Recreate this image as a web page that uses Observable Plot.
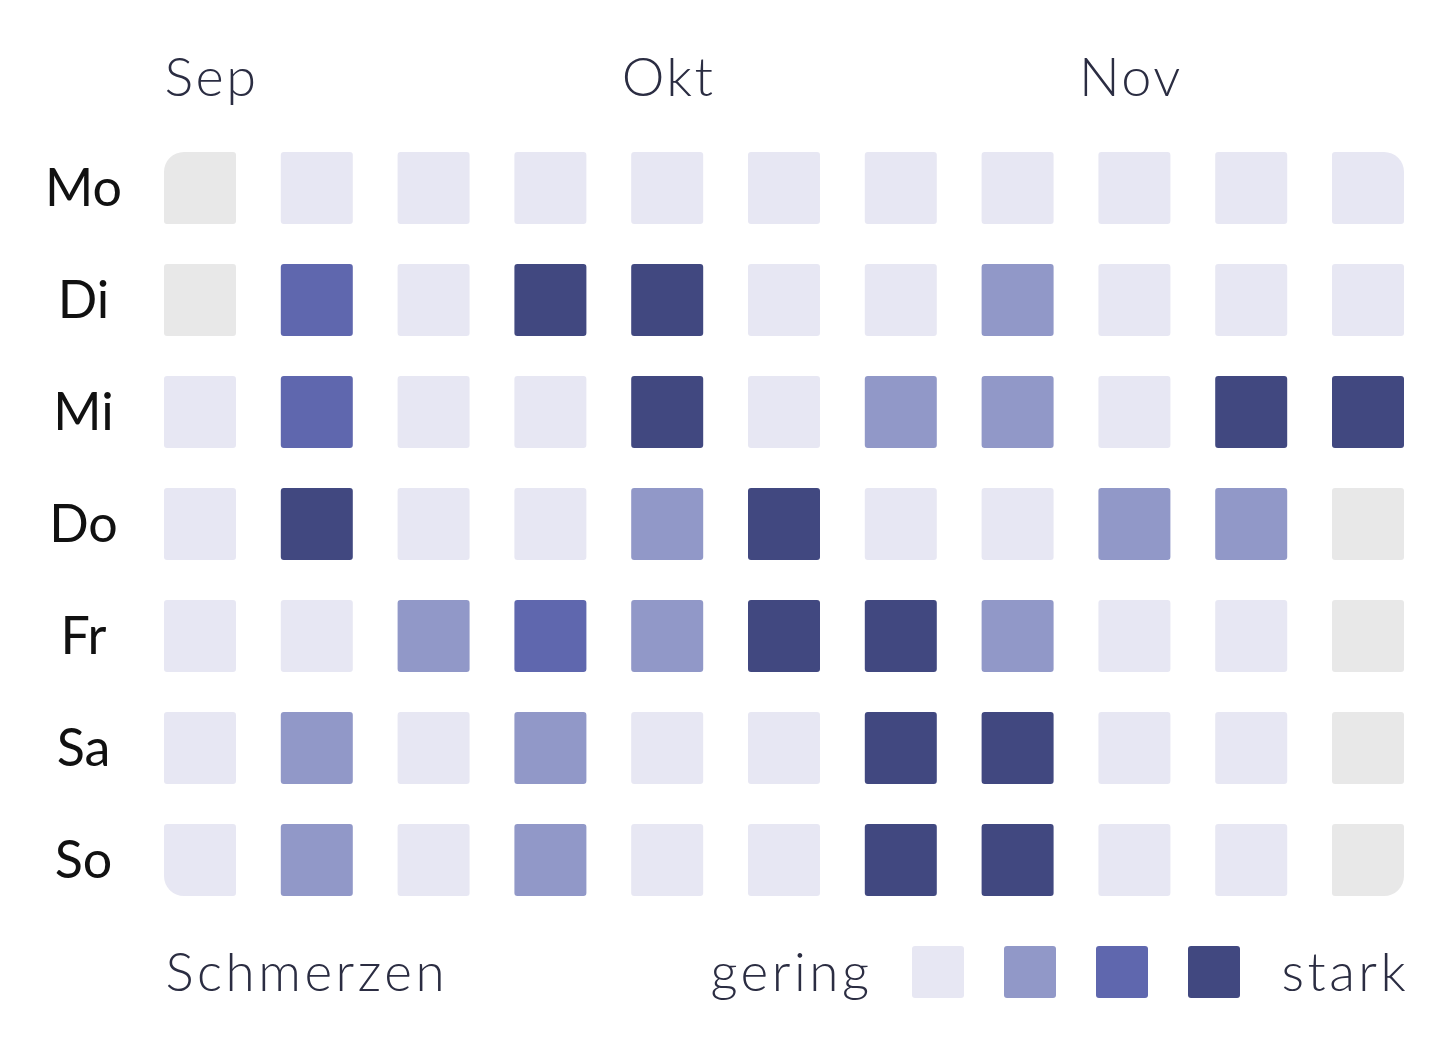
<!DOCTYPE html>
<html><head><meta charset="utf-8">
<script src="https://cdn.jsdelivr.net/npm/d3@7"></script>
<script src="https://cdn.jsdelivr.net/npm/@observablehq/plot@0.6"></script>
<style>
body{margin:0;background:#fff;}
#chart svg{display:block}
#main g[aria-label="text"] text{letter-spacing:2.5px}
#legend g[aria-label="text"] text{letter-spacing:3.5px}
</style>
</head><body><div id="chart"></div><script>
const days = ["Mo","Di","Mi","Do","Fr","Sa","So"];
const weeks = [0,1,2,3,4,5,6,7,8,9,10];
const months = ["Sep","Okt","Nov"];
const monthWeek = [0,4,8];
// 0 = keine Daten, 1 = gering ... 4 = stark
const levelMo = [0,1,1,1,1,1,1,1,1,1,1];
const levelDi = [0,3,1,4,4,1,1,2,1,1,1];
const levelMi = [1,3,1,1,4,1,2,2,1,4,4];
const levelDo = [1,4,1,1,2,4,1,1,2,2,0];
const levelFr = [1,1,2,3,2,4,4,2,1,1,0];
const levelSa = [1,2,1,2,1,1,4,4,1,1,0];
const levelSo = [1,2,1,2,1,1,4,4,1,1,0];
const legendLevels = [1,2,3,4];
const legendTitle = "Schmerzen";
const legendLow = "gering";
const legendHigh = "stark";
const levelColors = ["#e8e8e8","#e7e7f3","#9198c8","#5f67ae","#414880"];

const rows = [levelMo, levelDi, levelMi, levelDo, levelFr, levelSa, levelSo];
const data = [];
rows.forEach((r, di) => r.forEach((v, wi) => data.push({day: days[di], week: weeks[wi], level: v})));
const isCorner = d => (d.day === "Mo" || d.day === "So") && (d.week === 0 || d.week === 10);
const font = "Lato, 'Open Sans', sans-serif";
const colorScale = {type: "ordinal", domain: [0,1,2,3,4], range: levelColors};
const navy = "#2b2d42";
const monthShift = [-36, -46, -56];

const main = Plot.plot({
  width: 1444, height: 920,
  marginTop: 152, marginBottom: 24, marginLeft: 164, marginRight: 40,
  style: {fontFamily: font, background: "#fff", overflow: "visible"},
  x: {type: "band", domain: weeks, paddingInner: 0.3836, paddingOuter: 0, round: false, axis: null},
  y: {type: "band", domain: days, paddingInner: 0.357, paddingOuter: 0, round: false, axis: null},
  color: colorScale,
  marks: [
    Plot.cell(data.filter(d => !isCorner(d)), {x: "week", y: "day", fill: "level", rx: 3, inset: 0}),
    Plot.cell(data.filter(d => d.day === "Mo" && d.week === 0), {x: "week", y: "day", fill: "level", inset: 0, rx1y1: 20, rx2y1: 3, rx1y2: 3, rx2y2: 3}),
    Plot.cell(data.filter(d => d.day === "Mo" && d.week === 10), {x: "week", y: "day", fill: "level", inset: 0, rx1y1: 3, rx2y1: 20, rx1y2: 3, rx2y2: 3}),
    Plot.cell(data.filter(d => d.day === "So" && d.week === 0), {x: "week", y: "day", fill: "level", inset: 0, rx1y1: 3, rx2y1: 3, rx1y2: 20, rx2y2: 3}),
    Plot.cell(data.filter(d => d.day === "So" && d.week === 10), {x: "week", y: "day", fill: "level", inset: 0, rx1y1: 3, rx2y1: 3, rx1y2: 3, rx2y2: 20}),
    Plot.axisY({tickSize: 0, tickPadding: 81, textAnchor: "middle", fontSize: 52, fill: "#111", label: null, dy: 1}),
    ...months.map((m, i) => Plot.text([m], {x: () => monthWeek[i], frameAnchor: "top", textAnchor: "start", dy: -95, dx: monthShift[i], fontSize: 54, fontWeight: 300, fill: navy}))
  ]
});
main.id = "main";

const legend = Plot.plot({
  width: 1444, height: 128,
  marginTop: 26, marginBottom: 50, marginLeft: 912, marginRight: 204,
  style: {fontFamily: font, background: "#fff", overflow: "visible"},
  x: {type: "band", domain: legendLevels, paddingInner: 0.4348, paddingOuter: 0, round: false, axis: null},
  color: colorScale,
  marks: [
    Plot.cell(legendLevels, {x: d => d, fill: d => d, rx: 3, inset: 0}),
    Plot.text([legendTitle], {frameAnchor: "left", textAnchor: "start", dx: -747, dy: 2, fontSize: 53, fontWeight: 300, fill: navy}),
    Plot.text([legendLow], {x: () => legendLevels[0], frameAnchor: "middle", textAnchor: "end", dx: -66, dy: 2, fontSize: 53, fontWeight: 300, fill: navy}),
    Plot.text([legendHigh], {x: () => legendLevels[legendLevels.length - 1], frameAnchor: "middle", textAnchor: "start", dx: 67, dy: 2, fontSize: 53, fontWeight: 300, fill: navy}),
  ]
});
legend.id = "legend";
document.getElementById("chart").append(main, legend);
</script></body></html>
